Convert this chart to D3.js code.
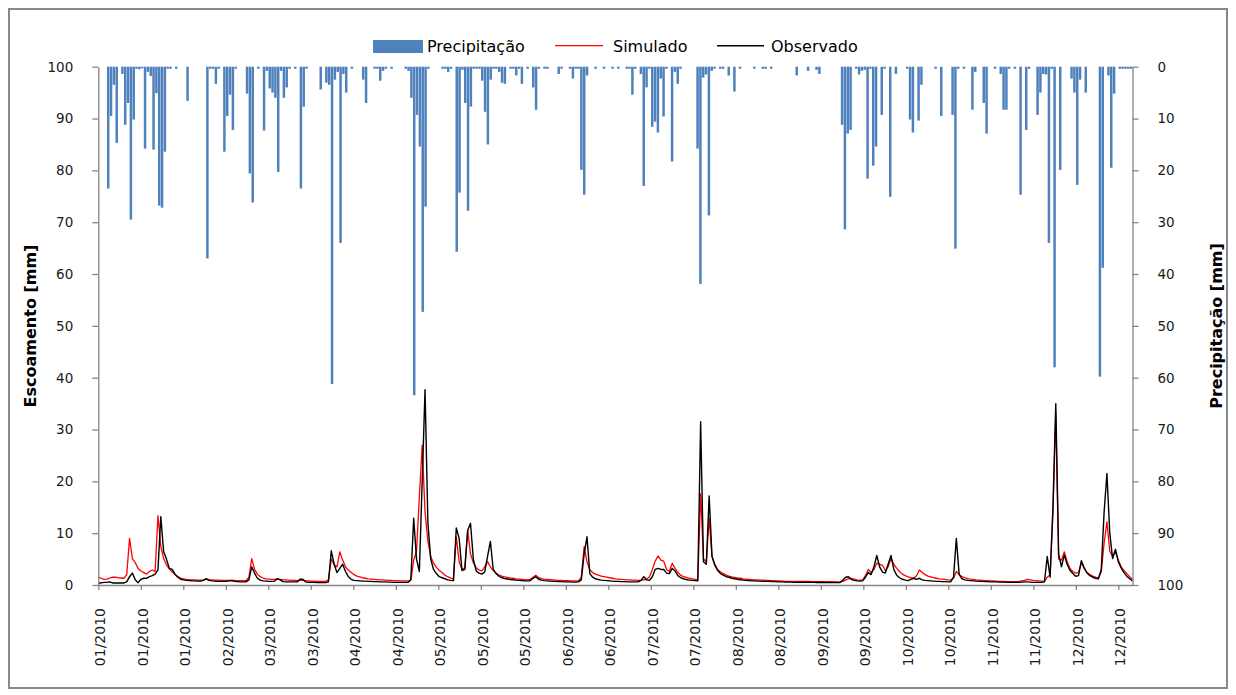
<!DOCTYPE html>
<html><head><meta charset="utf-8">
<script src="https://cdn.jsdelivr.net/npm/d3@7"></script>
<style>body{margin:0;background:#fff} svg{display:block} text{font-family:"DejaVu Sans",sans-serif}</style>
</head><body><svg id="c" width="1236" height="695"></svg>
<script>
const tickLabels = ["01/2010","01/2010","01/2010","02/2010","03/2010","03/2010","04/2010","04/2010","05/2010","05/2010","05/2010","06/2010","06/2010","07/2010","07/2010","08/2010","08/2010","09/2010","09/2010","10/2010","10/2010","11/2010","11/2010","12/2010","12/2010"];
const yTicks = [0,10,20,30,40,50,60,70,80,90,100];

const precipitacao = [
0,0,0,23.5,9.5,3.5,14.7,0,1.4,11.2,
7,29.5,10.2,0.4,0.5,0.3,15.8,1.0,1.8,16,
5.1,26.8,27.2,16.4,0.4,0.4,0,0.4,0,0,
0,6.6,0,0,0,0,0,0,37,0.4,
0.4,3.3,0.4,0,16.4,9.5,5.4,12.2,0.4,0,
0,0,5.2,20.6,26.2,0,0.4,0,12.3,0.8,
4.2,5,6,20.3,0.8,6,4,0.4,0,0.4,
0,23.5,7.7,0.4,0,0,0,0,4.4,0,
3.1,3.5,61.2,2.5,1.0,34,1.4,5,0,0.4,
0,0,0,2.5,7,0,0,0.4,0.4,2.7,
0.8,0.4,0,0.4,0,0,0,0,0.4,0.8,
6,63.4,9.3,15.4,47.3,27,0.4,0,0,0,
0,0.4,0.4,1.0,0.4,0,35.7,24.3,0.6,7,
27.8,7.7,0.4,0.4,0.4,2.7,8.7,15,2.5,0.4,
0.4,1.0,3.1,3.3,0,0.4,0.4,1.7,0.4,3.3,
0,0.4,0,4,8.3,0.4,0,0.4,0.4,0,
0,0,1.4,0.4,0,0,0.4,2.3,0.4,0.4,
19.9,24.7,1.7,0,0,0.4,0,0,0.4,0,
0,0.4,0,0.4,0,0,0.4,0.4,5.4,0.4,
0,1.4,23,4,0.4,11.6,10.6,12.7,2.3,9.6,
0.4,0,18.3,1.0,3.3,0.4,0,0,0,0,
0,15.8,41.9,2.1,1.5,28.7,0.8,0.4,0,0.4,
0.4,0,1.7,0,4.8,0,0.4,0,0,0,
0,0.4,0,0,0.4,0.4,0,0.4,0,0,
0,0,0,0,0,0,1.7,0,0,0,
0.8,0,0,0.6,1.4,0,0,0,0,0,
0,0,11.2,31.4,12.9,12.2,0,0.4,1.5,0.8,
0.6,21.6,0.4,19.1,15.4,0,9.3,0.4,0,25.1,
0,1.4,0,0,0,0.4,10.2,12.7,0,10.4,
3.5,0,0,0,0,0.4,0,9.5,0,0,
0,9.3,35.1,0.4,0,0.4,0,0,8.3,1.0,
0,0,7,12.9,0,0,0.4,0,1.4,8.3,
8.3,0.4,0,0.4,0,24.7,0,12.2,0.4,0,
0,9.3,5,1.4,1.5,34,0.4,58,0,19.9,
0,0,0,2.3,5,22.8,2.5,0,5,0,
0,0,0,59.8,38.8,0,1.7,19.5,5.2,0,
0.4,0.4,0.4,0.4,0.4];

const simulado = [
1.5,1.3,1.1,1.15,1.35,1.5,1.5,1.4,1.35,1.3,
2.0,9.0,5.1,4.3,3.2,2.7,2.4,2.1,2.6,2.9,
2.6,13.4,7.4,5.1,3.9,3.1,2.5,2.0,1.6,1.35,
1.2,1.1,1.05,1.0,1.0,0.95,0.95,1.0,1.2,1.05,
1.0,0.95,0.95,0.9,0.9,0.9,0.9,0.95,0.9,0.85,
0.85,0.85,0.85,1.5,5.1,3.0,2.1,1.6,1.35,1.2,
1.15,1.1,1.1,1.2,1.1,1.0,1.0,0.95,0.9,0.9,
0.85,0.9,0.9,0.8,0.8,0.75,0.75,0.7,0.7,0.7,
0.7,1.0,5.0,3.9,3.5,6.4,4.8,3.5,2.9,2.4,
2.0,1.7,1.55,1.4,1.3,1.2,1.15,1.1,1.05,1.0,
1.0,0.95,0.9,0.9,0.85,0.85,0.8,0.8,0.8,0.8,
0.9,4.8,6.5,17,27,14,8.5,5.5,4.2,3.4,
2.8,2.4,1.9,1.6,1.35,1.2,9.3,4.5,3.0,3.3,
10.6,6.0,4.3,3.3,2.9,2.7,3.5,4.5,3.5,2.8,
2.3,1.9,1.7,1.55,1.45,1.35,1.3,1.2,1.15,1.1,
1.05,1.0,1.1,1.5,1.9,1.4,1.25,1.15,1.1,1.05,
1.0,0.95,0.9,0.9,0.85,0.85,0.8,0.8,0.8,0.8,
1.5,7.4,4.5,2.9,2.4,2.1,1.9,1.7,1.6,1.5,
1.4,1.3,1.2,1.15,1.1,1.05,1.0,1.0,0.95,0.95,
0.9,0.9,1.0,1.1,1.6,3.0,4.6,5.6,4.8,4.6,
3.0,2.6,4.2,3.2,2.4,1.9,1.6,1.45,1.3,1.2,
1.1,1.0,17.6,5.0,4.5,12.9,5.5,4.0,3.0,2.5,
2.2,1.9,1.7,1.55,1.45,1.35,1.3,1.2,1.15,1.1,
1.05,1.0,1.0,0.95,0.95,0.9,0.9,0.85,0.85,0.8,
0.8,0.75,0.7,0.7,0.7,0.7,0.7,0.7,0.7,0.68,
0.68,0.66,0.66,0.66,0.66,0.65,0.65,0.64,0.64,0.63,
0.62,0.62,0.7,0.95,1.2,1.3,1.15,1.0,0.95,0.95,
1.8,3.0,2.4,3.0,4.2,4.0,3.8,2.8,3.5,5.1,
4.0,3.2,2.6,2.1,1.8,1.55,1.4,1.3,1.8,2.9,
2.4,2.0,1.7,1.55,1.4,1.3,1.2,1.15,1.1,1.0,
0.95,1.3,2.6,2.0,1.6,1.4,1.25,1.15,1.1,1.0,
0.95,0.9,0.85,0.85,0.8,0.8,0.75,0.7,0.7,0.68,
0.66,0.65,0.65,0.65,0.7,0.8,0.9,1.1,1.0,0.9,
0.85,0.8,0.75,0.7,1.5,2.0,14,33,5.0,4.8,
6.4,4.5,3.2,2.6,2.3,2.4,4.3,3.2,2.4,2.0,
1.7,1.5,1.35,2.5,8.0,12.2,6.5,5.5,6.4,4.8,
3.5,2.8,2.2,1.6,1.1];

const observado = [
0.4,0.4,0.5,0.5,0.6,0.4,0.4,0.4,0.4,0.4,
0.6,1.6,2.3,1.0,0.45,1.1,1.3,1.3,1.6,1.8,
2.1,2.9,13.2,6.4,5.0,3.2,3.0,2.1,1.5,1.1,
1.0,0.9,0.85,0.8,0.8,0.75,0.75,0.9,1.2,0.9,
0.8,0.75,0.7,0.7,0.7,0.7,0.85,0.8,0.7,0.65,
0.6,0.6,0.6,1.0,3.5,2.3,1.3,0.95,0.8,0.75,
0.7,0.7,0.75,1.2,1.0,0.65,0.6,0.6,0.6,0.6,
0.6,1.1,1.1,0.6,0.5,0.5,0.5,0.45,0.45,0.45,
0.45,0.6,6.6,4.0,2.4,3.2,4.0,2.6,1.6,1.1,
0.9,0.85,0.8,0.75,0.75,0.7,0.7,0.65,0.65,0.6,
0.6,0.6,0.55,0.55,0.5,0.5,0.5,0.5,0.5,0.5,
1.0,12.9,5.0,2.6,20,37.7,12,5.0,3.0,2.2,
1.6,1.4,1.2,1.0,0.9,0.85,11.0,9.0,2.8,3.0,
10.5,11.9,5.0,2.7,2.3,2.1,2.5,5.5,8.4,3.0,
2.2,1.7,1.4,1.25,1.15,1.05,1.0,0.95,0.9,0.85,
0.8,0.8,0.8,1.3,1.6,1.1,0.95,0.85,0.8,0.75,
0.7,0.7,0.65,0.65,0.6,0.6,0.6,0.55,0.55,0.6,
1.0,6.0,9.3,2.2,1.5,1.2,1.05,0.95,0.9,0.85,
0.8,0.75,0.7,0.7,0.65,0.65,0.6,0.6,0.6,0.6,
0.6,0.9,1.6,1.0,0.9,1.6,3.0,3.2,3.0,3.0,
2.3,2.2,3.2,2.7,1.8,1.4,1.2,1.05,0.95,0.9,
0.85,0.8,31.5,4.5,4.0,17.2,5.5,3.8,2.8,2.2,
1.9,1.6,1.5,1.3,1.2,1.1,1.0,0.95,0.9,0.85,
0.8,0.8,0.75,0.75,0.7,0.7,0.7,0.65,0.65,0.6,
0.6,0.6,0.55,0.55,0.55,0.5,0.5,0.5,0.5,0.5,
0.5,0.5,0.5,0.48,0.48,0.48,0.46,0.46,0.45,0.45,
0.45,0.45,0.9,1.5,1.6,1.1,0.9,0.8,0.75,0.8,
1.5,2.4,2.0,3.5,5.7,3.5,2.5,2.3,4.0,5.7,
3.0,1.9,1.4,1.1,0.95,0.85,1.1,1.3,1.1,1.3,
1.0,0.9,0.85,0.8,0.75,0.7,0.7,0.65,0.65,0.6,
0.6,1.5,9.0,2.0,1.2,1.0,0.9,0.85,0.8,0.75,
0.7,0.7,0.65,0.65,0.6,0.6,0.6,0.55,0.55,0.55,
0.5,0.5,0.5,0.5,0.5,0.55,0.6,0.6,0.55,0.5,
0.5,0.5,0.5,0.6,5.5,1.5,15,35,6.0,3.5,
5.8,4.0,2.8,2.2,1.7,1.8,4.7,3.3,2.3,1.8,
1.5,1.3,1.2,3.0,14,21.5,10,5.1,6.9,4.5,
3.3,2.4,1.7,1.2,0.8];

const svg = d3.select("#c");
const axisColor = "#868686";
svg.append("rect").attr("x",9).attr("y",9).attr("width",1218).attr("height",679)
  .attr("fill","none").attr("stroke","#898989").attr("stroke-width",2);

const x0 = 98.3, x1 = 1132.5, yT = 66.7, yB = 585;
const days = d3.range(precipitacao.length);
const pad = 0.12;
const xBand = d3.scaleBand().domain(days).range([x0, x1]).paddingInner(pad).paddingOuter(pad/2);
const xLine = d3.scaleLinear().domain([0, days.length - 1]).range([x0, x1]);
const xTick = d3.scaleLinear().domain([0, days.length]).range([x0, x1]);
const yQ = d3.scaleLinear().domain([0, 100]).range([yB, yT]);
const yP = d3.scaleLinear().domain([0, 100]).range([yT, yB]);

// bars
svg.append("g").selectAll("rect").data(precipitacao).join("rect")
  .attr("x", (d,i) => xBand(i)).attr("width", xBand.bandwidth())
  .attr("y", yT).attr("height", d => yP(d) - yT)
  .attr("fill", "#4F81BD");

// lines
const line = d3.line().x((d,i) => xLine(i)).y(d => yQ(d));
svg.append("path").datum(simulado).attr("d", line).attr("fill","none")
  .attr("stroke","#FF0000").attr("stroke-width",1.3).attr("stroke-linejoin","round");
svg.append("path").datum(observado).attr("d", line).attr("fill","none")
  .attr("stroke","#000000").attr("stroke-width",1.4).attr("stroke-linejoin","round");

function styleAxis(g){
  g.select(".domain").attr("stroke", axisColor).attr("stroke-width",1.3);
  g.selectAll(".tick line").attr("stroke", axisColor).attr("stroke-width",1.3);
  g.selectAll("text").attr("fill","#1a1a1a").style("font-family",'"DejaVu Sans",sans-serif');
}

// left axis
const gl = svg.append("g").attr("transform",`translate(${x0},0)`)
  .call(d3.axisLeft(yQ).tickValues(yTicks).tickSize(6).tickSizeOuter(0).tickPadding(19));
styleAxis(gl); gl.selectAll("text").style("font-size","13.5px");

// right axis
const gr = svg.append("g").attr("transform",`translate(${x1},0)`)
  .call(d3.axisRight(yP).tickValues(yTicks).tickSize(6).tickSizeOuter(0).tickPadding(19));
styleAxis(gr); gr.selectAll("text").style("font-size","13.5px");

// bottom axis
const tickDays = tickLabels.map((_, i) => i * 15);
const gb = svg.append("g").attr("transform",`translate(0,${yB})`)
  .call(d3.axisBottom(xTick).tickValues(tickDays).tickSize(5).tickSizeOuter(0)
        .tickFormat((d,i) => tickLabels[i]));
styleAxis(gb);
gb.selectAll("text").style("font-size","14px")
  .attr("text-anchor","end").attr("x",-23).attr("y",0).attr("dy","0.36em")
  .attr("transform","translate(1.4,0) rotate(-90)");

// axis titles
svg.append("text").attr("transform","translate(30,326) rotate(-90)")
  .attr("text-anchor","middle").attr("dominant-baseline","central")
  .style("font-size","16px").style("font-weight","bold").attr("fill","#000")
  .text("Escoamento [mm]");
svg.append("text").attr("transform","translate(1216,326) rotate(-90)")
  .attr("text-anchor","middle").attr("dominant-baseline","central")
  .style("font-size","16px").style("font-weight","bold").attr("fill","#000")
  .text("Precipitação [mm]");

// legend
const lg = svg.append("g");
lg.append("rect").attr("x",373).attr("y",40).attr("width",50).attr("height",13).attr("fill","#4F81BD");
lg.append("text").attr("x",427).attr("y",51.5).style("font-size","16px").attr("fill","#000").text("Precipitação");
lg.append("line").attr("x1",555).attr("x2",603).attr("y1",45.7).attr("y2",45.7).attr("stroke","#FF0000").attr("stroke-width",1.3);
lg.append("text").attr("x",613).attr("y",51.5).style("font-size","16px").attr("fill","#000").text("Simulado");
lg.append("line").attr("x1",717).attr("x2",764).attr("y1",45.7).attr("y2",45.7).attr("stroke","#000").attr("stroke-width",1.4);
lg.append("text").attr("x",771).attr("y",51.5).style("font-size","16px").attr("fill","#000").text("Observado");
</script></body></html>
